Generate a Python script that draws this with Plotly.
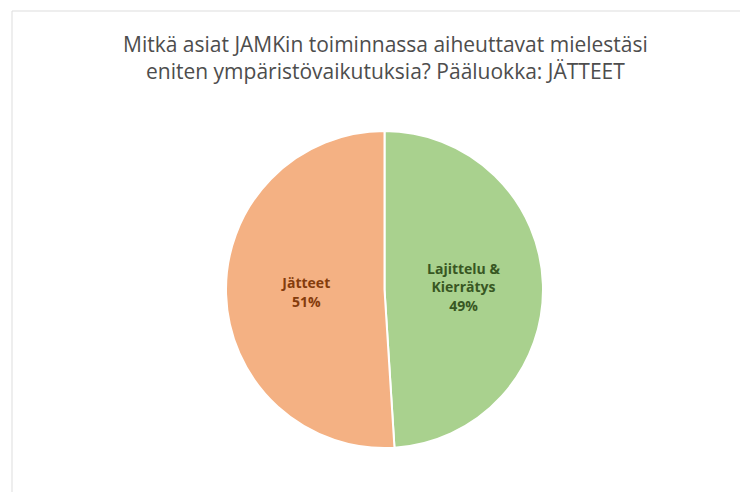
import plotly.graph_objects as go

labels = ["Lajittelu &<br>Kierrätys", "Jätteet"]
values = [49, 51]
colors = ["#A9D18E", "#F4B183"]
text_colors = ["#385723", "#843C0C"]
title_text = "Mitkä asiat JAMKin toiminnassa aiheuttavat mielestäsi<br>eniten ympäristövaikutuksia? Pääluokka: JÄTTEET"

# page body has an 8px margin, so the figure is 8px smaller than the window
W, H = 740, 484

fig = go.Figure(go.Pie(
    labels=labels,
    values=values,
    sort=False,
    direction="clockwise",
    rotation=0,
    marker=dict(colors=colors, line=dict(color="white", width=2)),
    textposition="inside",
    insidetextorientation="horizontal",
    texttemplate="<b>%{label}</b><br><b>%{percent:.0%}</b>",
    textfont=dict(family="Open Sans", size=14, color=text_colors),
    showlegend=False,
    hoverinfo="skip",
    domain=dict(x=[218 / W, 535 / W], y=[1 - 440 / H, 1 - 123 / H]),
))

fig.update_layout(
    width=W, height=H,
    margin=dict(l=0, r=0, t=0, b=0),
    paper_bgcolor="white",
    plot_bgcolor="white",
    annotations=[dict(
        text=title_text, x=377 / W, y=1 - 50 / H, xref="paper", yref="paper",
        xanchor="center", yanchor="middle", showarrow=False,
        font=dict(family="Open Sans", size=21, color="#4D4D4D"),
    )],
    shapes=[dict(type="rect", xref="paper", yref="paper",
                 x0=4 / W, x1=733 / W, y0=-0.05, y1=1 - 3 / H,
                 line=dict(color="#DDDDDD", width=1))],
)

fig.write_html("out.html")
